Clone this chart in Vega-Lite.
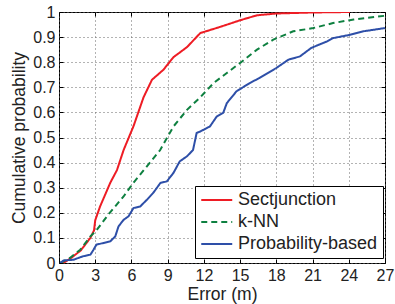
{
  "$schema": "https://vega.github.io/schema/vega-lite/v6.json",
  "autosize": "none",
  "width": 326,
  "height": 251,
  "padding": {"left": 59, "top": 12, "right": 10, "bottom": 41},
  "background": "white",
  "config": {
    "font": "Liberation Sans",
    "view": {"stroke": "black", "strokeWidth": 1},
    "axis": {
      "labelFont": "Liberation Sans", "titleFont": "Liberation Sans",
      "labelFontSize": 16, "titleFontSize": 17.5, "titleFontWeight": "normal",
      "labelColor": "#222", "titleColor": "#222",
      "domain": false, "tickColor": "black", "tickSize": -4,
      "gridColor": "#666", "gridDash": [1, 3], "gridWidth": 1
    }
  },
  "data": {"values": [
    {"s": "Sectjunction", "x": 0.36, "y": 0},
    {"s": "Sectjunction", "x": 1.0, "y": 0.02},
    {"s": "Sectjunction", "x": 1.8, "y": 0.05},
    {"s": "Sectjunction", "x": 2.6, "y": 0.10},
    {"s": "Sectjunction", "x": 2.9, "y": 0.13},
    {"s": "Sectjunction", "x": 3.0, "y": 0.17},
    {"s": "Sectjunction", "x": 3.4, "y": 0.225},
    {"s": "Sectjunction", "x": 4.25, "y": 0.32},
    {"s": "Sectjunction", "x": 4.8, "y": 0.37},
    {"s": "Sectjunction", "x": 5.35, "y": 0.45},
    {"s": "Sectjunction", "x": 6.17, "y": 0.545},
    {"s": "Sectjunction", "x": 7.0, "y": 0.66},
    {"s": "Sectjunction", "x": 7.7, "y": 0.73},
    {"s": "Sectjunction", "x": 8.65, "y": 0.77},
    {"s": "Sectjunction", "x": 9.48, "y": 0.82},
    {"s": "Sectjunction", "x": 10.6, "y": 0.86},
    {"s": "Sectjunction", "x": 11.7, "y": 0.916},
    {"s": "Sectjunction", "x": 13.3, "y": 0.94},
    {"s": "Sectjunction", "x": 15.0, "y": 0.967},
    {"s": "Sectjunction", "x": 16.4, "y": 0.987},
    {"s": "Sectjunction", "x": 18.0, "y": 0.994},
    {"s": "Sectjunction", "x": 21.0, "y": 0.998},
    {"s": "Sectjunction", "x": 24.1, "y": 1.0},
    {"s": "k-NN", "x": 0.1, "y": 0},
    {"s": "k-NN", "x": 0.9, "y": 0.02},
    {"s": "k-NN", "x": 1.76, "y": 0.053},
    {"s": "k-NN", "x": 2.6, "y": 0.106},
    {"s": "k-NN", "x": 3.1, "y": 0.13},
    {"s": "k-NN", "x": 4.2, "y": 0.2},
    {"s": "k-NN", "x": 5.35, "y": 0.265},
    {"s": "k-NN", "x": 6.17, "y": 0.32},
    {"s": "k-NN", "x": 7.28, "y": 0.385},
    {"s": "k-NN", "x": 8.38, "y": 0.45},
    {"s": "k-NN", "x": 9.48, "y": 0.544},
    {"s": "k-NN", "x": 10.6, "y": 0.61},
    {"s": "k-NN", "x": 11.7, "y": 0.66},
    {"s": "k-NN", "x": 12.8, "y": 0.717},
    {"s": "k-NN", "x": 13.9, "y": 0.757},
    {"s": "k-NN", "x": 15.0, "y": 0.797},
    {"s": "k-NN", "x": 16.4, "y": 0.85},
    {"s": "k-NN", "x": 17.75, "y": 0.89},
    {"s": "k-NN", "x": 19.4, "y": 0.923},
    {"s": "k-NN", "x": 21.06, "y": 0.936},
    {"s": "k-NN", "x": 22.7, "y": 0.956},
    {"s": "k-NN", "x": 24.4, "y": 0.97},
    {"s": "k-NN", "x": 27.0, "y": 0.985},
    {"s": "Probability-based", "x": 0.1, "y": 0},
    {"s": "Probability-based", "x": 0.38, "y": 0.01},
    {"s": "Probability-based", "x": 1.2, "y": 0.013},
    {"s": "Probability-based", "x": 2.0, "y": 0.027},
    {"s": "Probability-based", "x": 2.6, "y": 0.033},
    {"s": "Probability-based", "x": 2.86, "y": 0.053},
    {"s": "Probability-based", "x": 3.1, "y": 0.073},
    {"s": "Probability-based", "x": 3.7, "y": 0.08},
    {"s": "Probability-based", "x": 4.24, "y": 0.086},
    {"s": "Probability-based", "x": 4.66, "y": 0.106},
    {"s": "Probability-based", "x": 4.93, "y": 0.146},
    {"s": "Probability-based", "x": 5.35, "y": 0.172},
    {"s": "Probability-based", "x": 5.76, "y": 0.186},
    {"s": "Probability-based", "x": 6.17, "y": 0.219},
    {"s": "Probability-based", "x": 6.72, "y": 0.225},
    {"s": "Probability-based", "x": 7.28, "y": 0.252},
    {"s": "Probability-based", "x": 7.8, "y": 0.279},
    {"s": "Probability-based", "x": 8.4, "y": 0.319},
    {"s": "Probability-based", "x": 8.93, "y": 0.325},
    {"s": "Probability-based", "x": 9.48, "y": 0.359},
    {"s": "Probability-based", "x": 10.0, "y": 0.405},
    {"s": "Probability-based", "x": 10.6, "y": 0.425},
    {"s": "Probability-based", "x": 11.1, "y": 0.45},
    {"s": "Probability-based", "x": 11.4, "y": 0.518},
    {"s": "Probability-based", "x": 11.7, "y": 0.524},
    {"s": "Probability-based", "x": 12.5, "y": 0.544},
    {"s": "Probability-based", "x": 13.07, "y": 0.584},
    {"s": "Probability-based", "x": 13.6, "y": 0.598},
    {"s": "Probability-based", "x": 13.9, "y": 0.637},
    {"s": "Probability-based", "x": 14.7, "y": 0.684},
    {"s": "Probability-based", "x": 15.8, "y": 0.717},
    {"s": "Probability-based", "x": 16.6, "y": 0.737},
    {"s": "Probability-based", "x": 18.0, "y": 0.777},
    {"s": "Probability-based", "x": 19.0, "y": 0.81},
    {"s": "Probability-based", "x": 19.95, "y": 0.823},
    {"s": "Probability-based", "x": 20.9, "y": 0.857},
    {"s": "Probability-based", "x": 22.2, "y": 0.883},
    {"s": "Probability-based", "x": 22.7, "y": 0.896},
    {"s": "Probability-based", "x": 24.1, "y": 0.909},
    {"s": "Probability-based", "x": 25.2, "y": 0.923},
    {"s": "Probability-based", "x": 27.0, "y": 0.936}
  ]},
  "layer": [
    {
      "mark": {"type": "point", "opacity": 0},
      "encoding": {
        "x": {"field": "x", "type": "quantitative",
          "scale": {"domain": [0, 27], "nice": false, "zero": false},
          "axis": {"orient": "top", "values": [0, 3, 6, 9, 12, 15, 18, 21, 24, 27], "labels": false, "grid": false, "title": null}},
        "y": {"field": "y", "type": "quantitative",
          "scale": {"domain": [0, 1], "nice": false},
          "axis": {"orient": "right", "values": [0, 0.1, 0.2, 0.3, 0.4, 0.5, 0.6, 0.7, 0.8, 0.9, 1], "labels": false, "grid": false, "title": null}}
      }
    },
    {
      "mark": {"type": "line", "strokeWidth": 2, "clip": true},
      "encoding": {
        "x": {"field": "x", "type": "quantitative", "title": "Error (m)",
          "scale": {"domain": [0, 27], "nice": false, "zero": false},
          "axis": {"orient": "bottom", "grid": true, "values": [0, 3, 6, 9, 12, 15, 18, 21, 24, 27], "labelPadding": 8, "titlePadding": 2, "labelFlush": false}},
        "y": {"field": "y", "type": "quantitative", "title": "Cumulative probability",
          "scale": {"domain": [0, 1], "nice": false},
          "axis": {"orient": "left", "grid": true, "values": [0, 0.1, 0.2, 0.3, 0.4, 0.5, 0.6, 0.7, 0.8, 0.9, 1], "format": "~g", "labelPadding": 8, "titlePadding": 4, "labelFlush": false}},
        "color": {"field": "s", "type": "nominal", "title": null,
          "scale": {"domain": ["Sectjunction", "k-NN", "Probability-based"], "range": ["#ee1c24", "#0e8040", "#2e4fa8"]},
          "legend": {"orient": "none", "legendX": 136, "legendY": 174, "strokeColor": "black", "fillColor": "white",
            "padding": 5, "symbolType": "M-1,0H3", "symbolSize": 240, "symbolStrokeWidth": 2,
            "labelFont": "Liberation Sans", "labelFontSize": 18, "labelColor": "#222", "rowPadding": 4, "labelOffset": 20}},
        "strokeDash": {"field": "s", "type": "nominal", "legend": null,
          "scale": {"domain": ["Sectjunction", "k-NN", "Probability-based"], "range": [[1, 0], [6, 4], [1, 0]]}}
      }
    }
  ],
  "resolve": {"axis": {"x": "independent", "y": "independent"}}
}
